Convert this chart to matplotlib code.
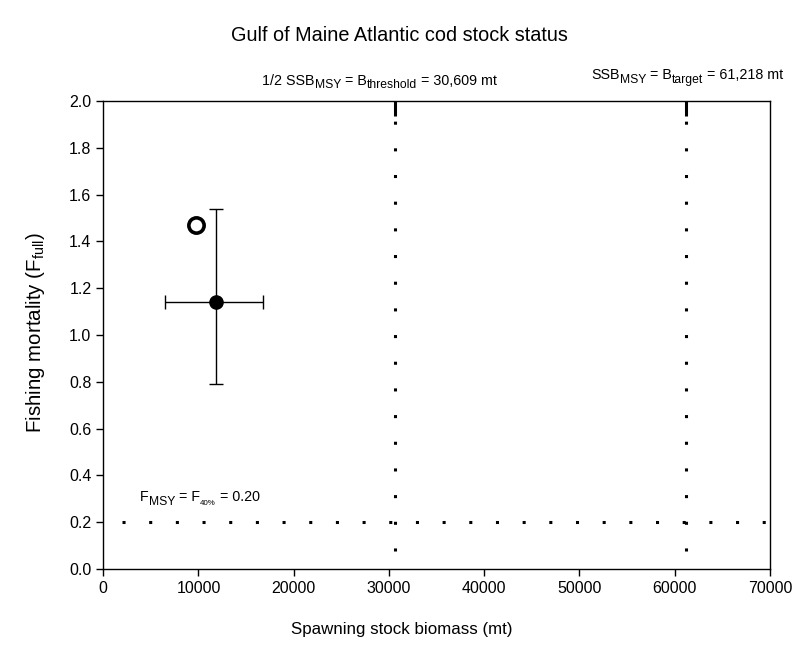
import matplotlib
matplotlib.use("Agg")
import matplotlib.pyplot as plt
from matplotlib.transforms import offset_copy

plt.rcParams['font.family'] = ['Liberation Sans', 'DejaVu Sans']
plt.rcParams['mathtext.fontset'] = 'custom'
plt.rcParams['mathtext.rm'] = 'Liberation Sans'
plt.rcParams['mathtext.it'] = 'Liberation Sans'
plt.rcParams['mathtext.bf'] = 'Liberation Sans:bold'

# Data
ssb_current = 11860
f_current = 1.14
ssb_err = [6500, 16800]
f_err = [0.79, 1.54]
ssb_prev = 9760
f_prev = 1.47
b_threshold = 30609
b_target = 61218
f_msy = 0.20
ref_line_ymin = 0.077
ref_line_xmin = 1930
ref_cap_ymin = 1.935

x_ticks = [0, 10000, 20000, 30000, 40000, 50000, 60000, 70000]
y_ticks = [0.0, 0.2, 0.4, 0.6, 0.8, 1.0, 1.2, 1.4, 1.6, 1.8, 2.0]

DPI = 100
fig = plt.figure(figsize=(8, 6.46), dpi=DPI)
ax = fig.add_axes([0.129, 0.119, 0.8335, 0.7247])

lw = 2.2
dots = (0, (1, 7.73))
ax.plot([ref_line_xmin, 70000], [f_msy, f_msy], color='black', lw=lw, linestyle=dots,
        dash_capstyle='butt', clip_on=False)
for xb in (b_threshold, b_target):
    ax.plot([xb, xb], [ref_line_ymin, 2.0], color='black', lw=lw, linestyle=dots,
            dash_capstyle='butt', clip_on=False)
    ax.plot([xb, xb], [ref_cap_ymin, 2.0], color='black', lw=lw, solid_capstyle='butt')

ax.errorbar([ssb_current], [f_current],
            xerr=[[ssb_current - ssb_err[0]], [ssb_err[1] - ssb_current]],
            yerr=[[f_current - f_err[0]], [f_err[1] - f_current]],
            fmt='o', color='black', ms=9.5, elinewidth=1, capsize=4.8, capthick=1, zorder=5)
ax.plot([ssb_prev], [f_prev], 'o', mfc='white', mec='black', ms=11, mew=2.6, zorder=6)

ax.set_xlim(0, 70000)
ax.set_ylim(0, 2.0)
ax.set_xticks(x_ticks)
ax.set_yticks(y_ticks)
ax.set_yticklabels([f"{v:.1f}" for v in y_ticks])
ax.tick_params(direction='out', length=5, width=1, labelsize=11.5)
for s in ax.spines.values():
    s.set_linewidth(1)

ax.set_xlabel('Spawning stock biomass (mt)', fontsize=12.2)
ax.xaxis.set_label_coords(0.448, -0.113)
ax.set_ylabel(r'Fishing mortality (F$_{\mathregular{full}}$)', fontsize=14.8)
ax.yaxis.set_label_coords(-0.084, 0.505)

fig.text(0.499, 0.945, 'Gulf of Maine Atlantic cod stock status', ha='center', va='center', fontsize=14.3)

renderer = fig.canvas.get_renderer()


def rich_text(x, y, parts, size, ha='left'):
    """parts: list of (text, scale, is_sub, gap_before). x,y in figure fraction (baseline)."""
    base = fig.transFigure
    sp = fig.text(0, 0, 'a a', fontsize=size)
    nsp = fig.text(0, 0, 'aa', fontsize=size)
    space_w = sp.get_window_extent(renderer).width - nsp.get_window_extent(renderer).width
    sp.remove(); nsp.remove()
    widths = []
    for txt, sc, sub, gap in parts:
        t = fig.text(0, 0, txt, fontsize=size * sc)
        widths.append(t.get_window_extent(renderer).width)
        t.remove()
    total = sum(widths) + space_w * sum(1 for p in parts if p[3])
    off = -total if ha == 'right' else 0.0
    for (txt, sc, sub, gap), w in zip(parts, widths):
        if gap:
            off += space_w
        dy = -0.27 * size * DPI / 72 if sub else 0
        tr = offset_copy(base, fig=fig, x=off, y=dy, units='dots')
        fig.text(x, y, txt, fontsize=size * sc, transform=tr, ha='left', va='baseline')
        off += w


ann_size = 10.3
rich_text(0.6215, 0.869, [("1/2 SSB", 1, False, False), ("MSY", 0.85, True, False),
                          ("= B", 1, False, True), ("threshold", 0.85, True, False),
                          ("= 30,609 mt", 1, False, True)], ann_size, ha='right')
rich_text(0.979, 0.877, [("SSB", 1, False, False), ("MSY", 0.85, True, False),
                         ("= B", 1, False, True), ("target", 0.85, True, False),
                         ("= 61,218 mt", 1, False, True)], ann_size, ha='right')
rich_text(0.175, 0.224, [("F", 1, False, False), ("MSY", 0.85, True, False),
                         ("= F", 1, False, True), ("40%", 0.55, True, False),
                         ("= 0.20", 1, False, True)], ann_size)

fig.savefig('out.png', dpi=DPI)
